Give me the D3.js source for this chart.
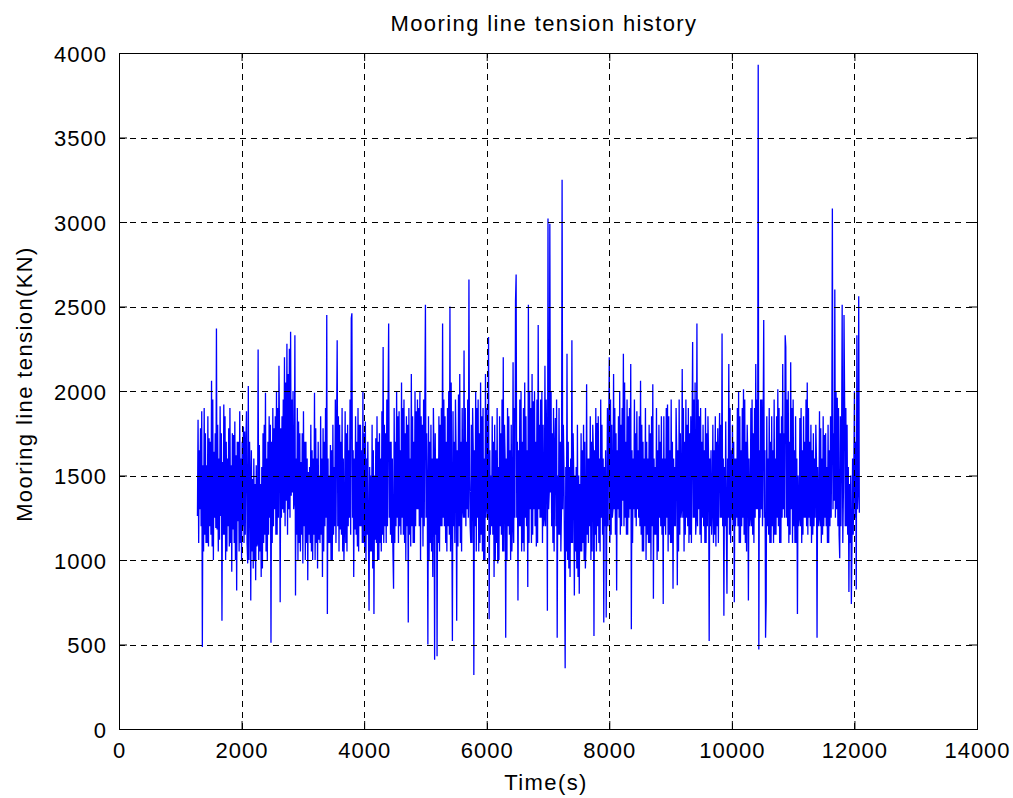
<!DOCTYPE html>
<html>
<head>
<meta charset="utf-8">
<script src="https://cdn.jsdelivr.net/npm/d3@7"></script>
<style>
  html, body { margin: 0; padding: 0; background: #ffffff; }
  svg { display: block; }
  text { font-family: "Liberation Sans", Arial, Helvetica, sans-serif; fill: #000; }
</style>
</head>
<body>
<div id="chart"></div>
<script>
// ---------- data ----------
const titleText = "Mooring line tension history";
const xLabelText = "Time(s)";
const yLabelText = "Mooring line tension(KN)";

const xTicks = [0, 2000, 4000, 6000, 8000, 10000, 12000, 14000];
const yTicks = [0, 500, 1000, 1500, 2000, 2500, 3000, 3500, 4000];

// sampling of the record (s)
const timeStart = 1280;
const timeStep = 10;

// tension samples (kN), 400 s per row
const tension = [
  1260, 1830, 1100, 1650, 1300, 1780, 1200, 1880, 485, 1560, 1050, 1900, 1150, 1750, 1100, 1560, 1100, 1850, 1080, 1720, 1200, 1700, 1150, 2060, 1080, 1950, 1000, 1640, 1250, 1750, 1190, 2370, 1180, 1800, 1050, 1600, 1120, 1910, 1260, 1750,
  640, 1580, 1150, 1920, 1150, 1850, 1000, 1700, 1050, 1600, 1200, 1780, 1080, 1900, 1100, 1560, 930, 1750, 1180, 1740, 1100, 1820, 1000, 1620, 820, 1700, 1230, 1700, 1050, 1880, 1100, 1600, 1000, 1700, 1200, 1790, 1100, 1760, 1150, 1680,
  1880, 1100, 980, 2030, 1000, 1700, 1500, 760, 1650, 1050, 1480, 950, 1600, 1000, 1450, 880, 1560, 1080, 1100, 2245, 1000, 1680, 1050, 1450, 900, 1550, 950, 1750, 1100, 1800, 1150, 1990, 1050, 1600, 1000, 1700, 1150, 1850, 1250, 1800,
  510, 1700, 1100, 1900, 1200, 1780, 1300, 1850, 1150, 2000, 1150, 1900, 1250, 2150, 1700, 750, 1780, 1250, 1850, 1300, 1950, 1280, 2200, 1200, 2050, 1350, 2280, 1150, 2100, 1300, 2250, 1250, 2350, 1380, 1950, 1400, 2000, 1300, 1350, 2330,
  790, 1600, 1150, 1900, 1000, 1820, 1100, 1750, 1050, 1580, 1150, 1750, 980, 1880, 1200, 1700, 1000, 1700, 1100, 1600, 880, 1520, 1150, 1550, 1100, 1800, 1050, 1650, 1000, 1600, 1150, 1990, 1000, 1780, 1100, 1600, 950, 1700, 1120, 1500,
  1100, 1850, 1150, 1600, 900, 1780, 1050, 1700, 1200, 1900, 1250, 2450, 680, 1600, 1100, 1500, 1100, 1680, 1000, 1650, 1000, 1800, 1150, 1550, 1200, 1950, 1100, 1750, 2300, 1200, 1850, 1050, 1800, 1180, 1700, 1150, 1900, 1050, 1600, 1000,
  1200, 1880, 1100, 1750, 1050, 1800, 1200, 1650, 1250, 1950, 1150, 2430, 2460, 1250, 1650, 900, 1600, 1180, 1850, 1150, 1700, 1080, 1900, 1050, 1800, 1200, 1800, 1200, 1650, 1100, 2000, 1100, 1750, 1050, 1820, 1000, 1600, 1150, 1700, 1150,
  700, 1550, 1050, 1500, 1050, 1800, 950, 1650, 680, 1500, 1120, 1720, 1100, 1850, 1000, 1700, 1000, 1750, 1100, 1600, 1050, 1880, 1150, 2260, 1100, 1800, 1200, 1750, 1100, 1950, 1200, 1900, 2400, 1250, 1700, 1150, 1700, 1100, 1600, 1050,
  830, 1900, 1100, 1700, 1200, 2000, 1250, 1850, 1100, 1880, 1200, 1650, 1150, 2050, 1250, 1900, 1150, 1950, 1100, 1750, 1000, 1850, 1200, 1800, 630, 1900, 1150, 1600, 1080, 2100, 1200, 1850, 1100, 1700, 1100, 2000, 1200, 1880, 1300, 1950,
  1300, 1900, 1200, 2000, 1000, 1850, 1250, 1800, 1080, 1950, 1200, 1900, 2510, 1250, 1750, 1400, 500, 1850, 1000, 1700, 1100, 1800, 1050, 1600, 900, 1900, 1600, 410, 1750, 1150, 1600, 430, 1600, 1100, 1850, 1050, 1800, 1200, 1900, 1200,
  2400, 1250, 1950, 1200, 1850, 1100, 1700, 1050, 1900, 1200, 2000, 1150, 2500, 1050, 2050, 1300, 520, 1880, 1200, 1700, 1100, 1950, 1650, 640, 1650, 1080, 1980, 1200, 2100, 1100, 1700, 1050, 1900, 1300, 1250, 2240, 1250, 1900, 1200, 1700,
  1300, 1950, 1250, 2660, 1500, 1200, 1100, 1800, 1100, 1900, 1650, 320, 1650, 1200, 2000, 1050, 1900, 1250, 1950, 1050, 1750, 1100, 2050, 1150, 1850, 1050, 1900, 1000, 1600, 1000, 2100, 1250, 1900, 1300, 1250, 2320, 650, 1650, 1150, 1500,
  1200, 1850, 1150, 1700, 900, 1800, 1000, 1650, 1100, 1900, 980, 1550, 1000, 1850, 1200, 1750, 1150, 1950, 1050, 2200, 1050, 1800, 1600, 540, 1600, 1000, 1900, 1200, 1850, 1150, 1650, 1000, 1800, 1050, 1200, 2170, 1100, 1900, 1250, 2530,
  2690, 1250, 1700, 760, 1650, 1200, 1950, 1200, 2000, 1050, 1700, 1100, 1900, 1050, 2050, 1250, 1850, 1200, 1650, 840, 2510, 1100, 2000, 1300, 1900, 1100, 2100, 1150, 1940, 1300, 2000, 1200, 1700, 1080, 1950, 1100, 2390, 1300, 1800, 1250,
  1950, 1250, 2000, 1100, 1800, 1200, 1250, 2150, 1200, 1950, 1650, 700, 3020, 1300, 1400, 2990, 1400, 2000, 1200, 1750, 1100, 1900, 1050, 1650, 1840, 1200, 1950, 540, 1500, 1150, 1900, 1150, 1700, 1050, 1300, 3250, 1300, 1800, 1550, 1000,
  360, 1550, 1050, 2220, 1000, 1700, 950, 1550, 900, 1600, 1100, 2300, 1100, 1750, 1500, 790, 1500, 1050, 1550, 950, 1800, 900, 1500, 800, 1450, 1050, 1750, 1050, 1650, 1100, 1800, 1000, 1700, 950, 1100, 2040, 1150, 1600, 1100, 1600,
  1200, 1850, 1000, 1700, 1050, 1800, 1650, 550, 1650, 1150, 1900, 1050, 1810, 1200, 1850, 1100, 1600, 1050, 1950, 1250, 1800, 1150, 1600, 630, 1550, 1200, 1650, 660, 1300, 1900, 1200, 1750, 2200, 1100, 1950, 1150, 1800, 1250, 1300, 2100,
  1300, 1900, 1150, 1750, 820, 1650, 1300, 1850, 1250, 2000, 1150, 1800, 1200, 1900, 1350, 2220, 1200, 2050, 1250, 1700, 1150, 1950, 1150, 1850, 1250, 1900, 1300, 2160, 590, 1650, 1100, 1600, 1300, 1950, 1250, 1750, 1200, 1880, 1300, 1650,
  1250, 1850, 1200, 2060, 1150, 1800, 1050, 1700, 1050, 1600, 1200, 1900, 1000, 1700, 1150, 1600, 1100, 1800, 1100, 1750, 1000, 1850, 1200, 2040, 770, 1600, 1150, 1550, 1150, 1900, 1000, 1650, 1050, 1800, 1250, 1700, 1200, 1850, 1150, 1600,
  740, 1850, 1200, 1600, 1150, 1900, 1250, 1920, 1050, 1850, 1150, 1650, 1100, 1950, 1100, 1700, 830, 1600, 1200, 1550, 1200, 1900, 1650, 850, 1650, 1050, 1950, 1150, 1750, 1250, 1300, 2130, 1250, 1900, 1050, 1700, 1150, 1950, 1250, 1800,
  1200, 1900, 1100, 1750, 1150, 1850, 1100, 1700, 2290, 1250, 1950, 1250, 2050, 1150, 1250, 2400, 1200, 1950, 1300, 1850, 1150, 1900, 1100, 1700, 1250, 1800, 1200, 1650, 1100, 1900, 1100, 1750, 1200, 1850, 1600, 520, 1600, 1200, 1650, 1150,
  1300, 1800, 1100, 1650, 1150, 1850, 1080, 1700, 1200, 1780, 1100, 1600, 1870, 1250, 1800, 1250, 2340, 1200, 1600, 670, 1550, 1200, 1820, 1200, 800, 1600, 1250, 2160, 1150, 1900, 1100, 1650, 1250, 1800, 1200, 1700, 750, 1600, 1200, 1600,
  1250, 1900, 1200, 2000, 1100, 1850, 1100, 1650, 1200, 1900, 1250, 2010, 1150, 1950, 1100, 1700, 1050, 1800, 1600, 760, 1600, 1200, 1250, 1900, 1200, 1950, 1150, 1750, 1100, 1900, 1250, 2160, 1300, 1950, 1300, 3930, 470, 1650, 1250, 1950,
  1300, 1950, 1200, 1750, 2420, 1250, 1650, 540, 750, 1850, 1200, 1600, 1150, 1900, 1100, 1700, 1100, 1850, 1200, 1650, 1100, 1950, 1150, 1600, 1150, 1850, 1250, 2010, 1200, 1900, 1100, 1750, 1100, 1850, 1250, 2160, 1300, 1750, 1250, 2330,
  2260, 1250, 1950, 1200, 2000, 1100, 1700, 1150, 2170, 1300, 1900, 1100, 1950, 1200, 1650, 1100, 1850, 1100, 1600, 680, 1500, 1200, 1250, 1840, 1200, 1900, 1100, 1650, 1150, 1850, 1250, 1700, 1250, 1950, 1200, 2050, 1150, 1900, 1250, 1700,
  1200, 1800, 1100, 1650, 1150, 1750, 1200, 1600, 1250, 1800, 1600, 540, 1550, 1200, 1250, 1880, 1200, 1780, 1100, 1600, 1150, 1850, 1200, 1740, 1250, 1750, 1200, 1550, 1100, 1800, 1100, 1650, 1200, 1850, 1250, 1700, 3080, 1300, 1750, 1350,
  2600, 1250, 2000, 1300, 1960, 1200, 1900, 1150, 1010, 1850, 1200, 1650, 2510, 1100, 1400, 2450, 1940, 1200, 1900, 1200, 1800, 1150, 1550, 810, 1450, 1100, 1500, 740, 1100, 1600, 1150, 1500, 2000, 1250, 1700, 825, 2330, 1300, 1400, 2560, 1280
];

// ---------- layout ----------
const W = 1013, H = 798;
const plot = { left: 119, top: 53, right: 977, bottom: 729 };

const svg = d3.select("#chart").append("svg")
  .attr("width", W).attr("height", H)
  .style("background", "#ffffff");

const x = d3.scaleLinear().domain([0, 14000]).range([plot.left, plot.right]);
const y = d3.scaleLinear().domain([0, 4000]).range([plot.bottom, plot.top]);

const series = tension.map((v, i) => ({ t: timeStart + i * timeStep, v }));

// data line
svg.append("path")
  .datum(series)
  .attr("fill", "none")
  .attr("stroke", "#0000ff")
  .attr("stroke-width", 1.3)
  .attr("stroke-linejoin", "miter")
  .attr("stroke-miterlimit", 1.5)
  .attr("d", d3.line().x(d => x(d.t)).y(d => y(d.v)));

// grid (drawn over the data, as in the reference)
const grid = svg.append("g").attr("stroke", "#000").attr("stroke-width", 1).attr("stroke-dasharray", "6,5");
grid.selectAll("line.gx").data(xTicks.slice(1, -1)).enter().append("line")
  .attr("x1", d => Math.round(x(d)) + 0.5).attr("x2", d => Math.round(x(d)) + 0.5)
  .attr("y1", plot.bottom).attr("y2", plot.top);
grid.selectAll("line.gy").data(yTicks.slice(1, -1)).enter().append("line")
  .attr("y1", d => Math.round(y(d)) + 0.5).attr("y2", d => Math.round(y(d)) + 0.5)
  .attr("x1", plot.left).attr("x2", plot.right);

// axes with inward ticks
const fs = 22;
const bottomAxis = d3.axisBottom(x).tickValues(xTicks).tickFormat(d3.format("d")).tickSizeInner(-8).tickSizeOuter(0).tickPadding(13);
const topAxis = d3.axisTop(x).tickValues(xTicks).tickFormat("").tickSizeInner(-8).tickSizeOuter(0);
const leftAxis = d3.axisLeft(y).tickValues(yTicks).tickFormat(d3.format("d")).tickSizeInner(-8).tickSizeOuter(0).tickPadding(12);
const rightAxis = d3.axisRight(y).tickValues(yTicks).tickFormat("").tickSizeInner(-8).tickSizeOuter(0);

function styleAxis(g) {
  g.selectAll("path.domain").remove();
  g.selectAll(".tick line").attr("stroke", "#000").attr("stroke-width", 1);
  g.selectAll("text").attr("font-size", fs).attr("letter-spacing", 1)
    .attr("font-family", "'Liberation Sans', Arial, sans-serif").attr("fill", "#000");
}

svg.append("g").attr("transform", `translate(0,${plot.bottom})`).call(bottomAxis).call(styleAxis);
svg.append("g").attr("transform", `translate(0,${plot.top})`).call(topAxis).call(styleAxis);
const gl = svg.append("g").attr("transform", `translate(${plot.left},0)`).call(leftAxis).call(styleAxis);
gl.selectAll("text").attr("dy", "0.38em");
svg.append("g").attr("transform", `translate(${plot.right},0)`).call(rightAxis).call(styleAxis);

// box
svg.append("rect")
  .attr("x", plot.left + 0.5).attr("y", plot.top + 0.5)
  .attr("width", plot.right - plot.left).attr("height", plot.bottom - plot.top)
  .attr("fill", "none").attr("stroke", "#000").attr("stroke-width", 1);

// titles
svg.append("text")
  .attr("x", 544).attr("y", 31)
  .attr("text-anchor", "middle").attr("font-size", fs).attr("letter-spacing", 1.4)
  .text(titleText);

svg.append("text")
  .attr("x", 546).attr("y", 790)
  .attr("text-anchor", "middle").attr("font-size", fs).attr("letter-spacing", 1.4)
  .text(xLabelText);

svg.append("text")
  .attr("transform", "translate(32,384) rotate(-90)")
  .attr("text-anchor", "middle").attr("font-size", fs).attr("letter-spacing", 1.4)
  .text(yLabelText);
</script>
</body>
</html>
